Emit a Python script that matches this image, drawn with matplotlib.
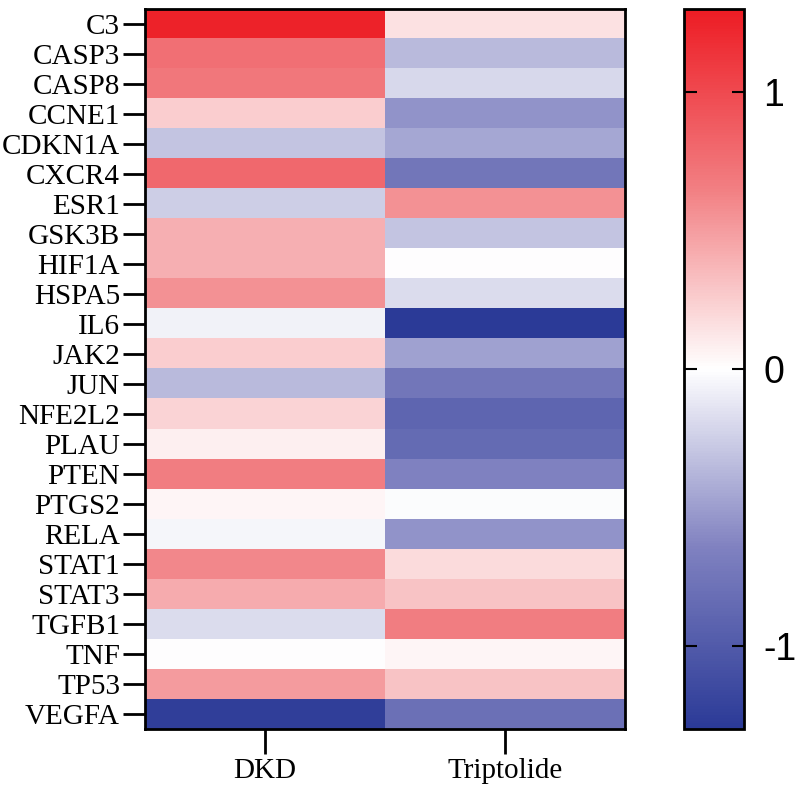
import numpy as np
import matplotlib
matplotlib.use("Agg")
import matplotlib.pyplot as plt
from matplotlib.colors import LinearSegmentedColormap

plt.rcParams["axes.unicode_minus"] = False

# Data
genes = ["C3", "CASP3", "CASP8", "CCNE1", "CDKN1A", "CXCR4", "ESR1", "GSK3B",
         "HIF1A", "HSPA5", "IL6", "JAK2", "JUN", "NFE2L2", "PLAU", "PTEN",
         "PTGS2", "RELA", "STAT1", "STAT3", "TGFB1", "TNF", "TP53", "VEGFA"]
groups = ["DKD", "Triptolide"]
dkd = [1.25, 0.75, 0.70, 0.25, -0.30, 0.80, -0.25, 0.40,
       0.40, 0.55, -0.07, 0.25, -0.35, 0.22, 0.08, 0.65,
       0.05, -0.05, 0.60, 0.42, -0.18, 0.00, 0.50, -1.25]
triptolide = [0.15, -0.35, -0.20, -0.55, -0.45, -0.75, 0.55, -0.30,
              0.00, -0.18, -1.30, -0.48, -0.75, -0.90, -0.85, -0.65,
              -0.02, -0.55, 0.18, 0.30, 0.65, 0.05, 0.30, -0.80]
cbar_ticks = [-1, 0, 1]
cbar_labels = ["-1", "0", "1"]

data = np.column_stack([dkd, triptolide])

cmap = LinearSegmentedColormap.from_list(
    "bwr_prism", ["#2b3a97", "#7f81c0", "#ffffff", "#f27f83", "#ed1c24"])

fig = plt.figure(figsize=(8, 7.87), dpi=100)
ax = fig.add_axes([0.18125, 0.0737, 0.6, 0.915])
cax = fig.add_axes([0.855, 0.0737, 0.075, 0.915])

im = ax.imshow(data, aspect="auto", cmap=cmap, vmin=-1.3, vmax=1.3,
               interpolation="nearest")

ax.set_yticks(range(len(genes)))
ax.set_yticklabels(genes, fontfamily="Liberation Serif", fontsize=21)
ax.set_xticks(range(len(groups)))
ax.set_xticklabels(groups, fontfamily="Liberation Serif", fontsize=21)
ax.tick_params(axis="y", length=16, width=2, pad=2)
ax.tick_params(axis="x", length=18, width=2, pad=3)
for s in ax.spines.values():
    s.set_linewidth(2)

cb = fig.colorbar(im, cax=cax, ticks=cbar_ticks)
cb.set_ticklabels(cbar_labels)
cb.outline.set_linewidth(2)
cax.tick_params(axis="y", direction="in", left=True, right=True,
                length=9, width=1.5, labelsize=27, pad=14)
for lab in cax.get_yticklabels():
    lab.set_fontfamily("Liberation Sans")

fig.savefig("out.png", dpi=100)
